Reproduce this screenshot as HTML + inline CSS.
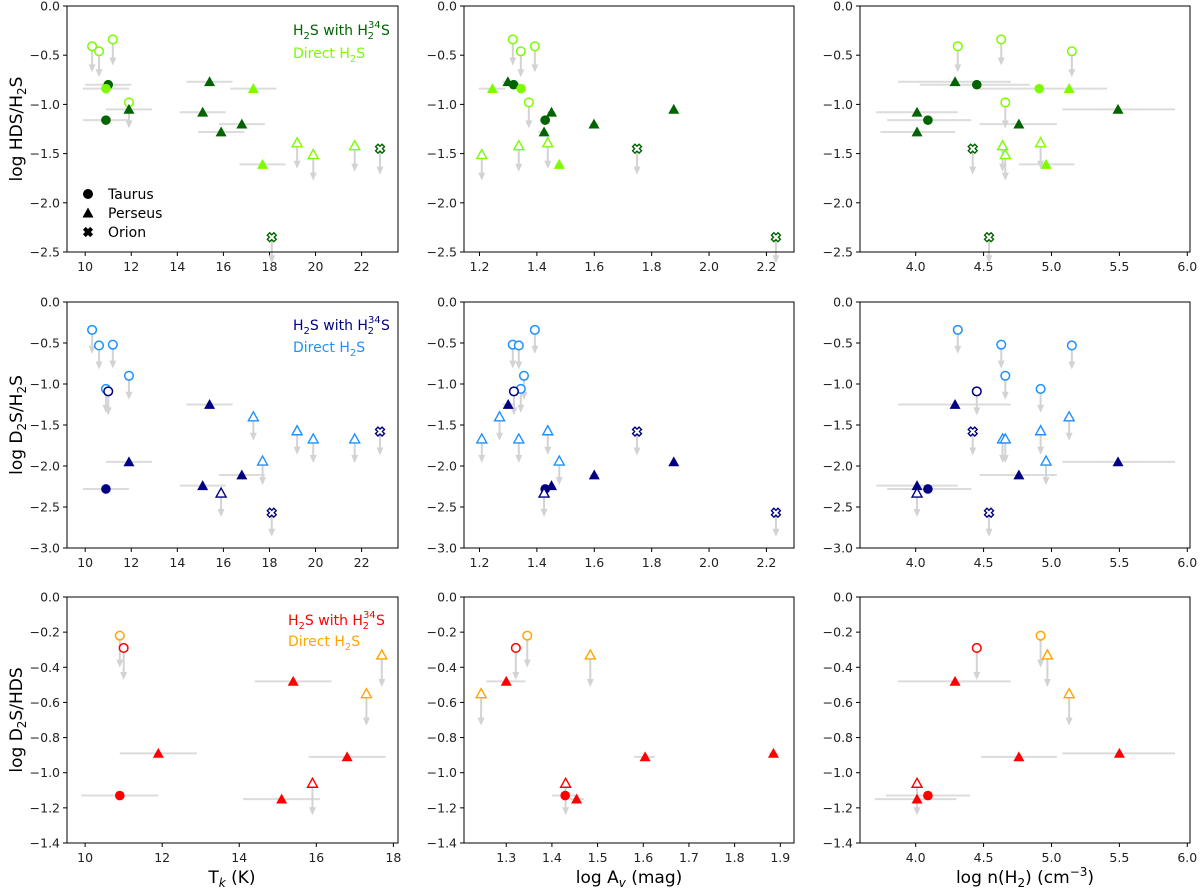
<!DOCTYPE html>
<html><head><meta charset="utf-8"><style>
html,body{margin:0;padding:0;background:#fff}
svg{display:block;font-family:"DejaVu Sans","Liberation Sans",sans-serif}
</style></head><body>
<svg id="fig" width="1200" height="893" viewBox="0 0 1200 893" xmlns="http://www.w3.org/2000/svg"></svg>
<script>
// ---- data: style = marker(c/t/x) + group(d dark / l light) + fill(f/o) + upper-limit(u/-)
// Row 1: log HDS/H2S
const r1_tk_x   = [10.3,10.6,11.2,11.0,10.9,10.9,11.9,11.9,15.4,17.3,15.1,16.8,15.9,17.7,19.2,19.9,21.7,22.8,18.1];
const r1_tk_y   = [-0.41,-0.46,-0.34,-0.80,-0.84,-1.16,-0.98,-1.05,-0.77,-0.84,-1.08,-1.20,-1.28,-1.61,-1.39,-1.51,-1.42,-1.45,-2.35];
const r1_tk_xlo = [null,null,null,10.0,9.9,9.9,null,10.9,14.4,16.3,14.1,15.8,14.9,16.7,null,null,null,null,null];
const r1_tk_xhi = [null,null,null,12.0,11.9,11.9,null,12.9,16.4,18.3,16.1,17.8,16.9,18.7,null,null,null,null,null];
const r1_tk_s   = ['clou','clou','clou','cdf-','clf-','cdf-','clou','tdf-','tdf-','tlf-','tdf-','tdf-','tdf-','tlf-','tlou','tlou','tlou','xdou','xdou'];

const r1_av_x   = [1.316,1.344,1.393,1.299,1.319,1.345,1.245,1.372,1.451,1.429,1.599,1.425,1.208,1.337,1.438,1.478,1.877,1.749,2.233];
const r1_av_y   = [-0.34,-0.46,-0.41,-0.77,-0.80,-0.84,-0.84,-0.98,-1.08,-1.16,-1.20,-1.28,-1.51,-1.42,-1.39,-1.61,-1.05,-1.45,-2.35];
const r1_av_xlo = [null,null,null,1.28,null,null,1.198,null,1.435,1.41,1.585,1.405,null,null,null,1.465,null,null,null];
const r1_av_xhi = [null,null,null,1.32,null,null,1.29,null,1.465,1.445,1.615,1.44,null,null,null,1.49,null,null,null];
const r1_av_s   = ['clou','clou','clou','tdf-','cdf-','clf-','tlf-','clou','tdf-','cdf-','tdf-','tdf-','tlou','tlou','tlou','tlf-','tdf-','xdou','xdou'];

const r1_n_x    = [4.31,4.63,5.15,4.29,4.45,4.91,5.13,4.66,5.49,4.01,4.09,4.76,4.01,4.42,4.64,4.66,4.92,4.96,4.54];
const r1_n_y    = [-0.41,-0.34,-0.46,-0.77,-0.80,-0.84,-0.84,-0.98,-1.05,-1.08,-1.16,-1.20,-1.28,-1.45,-1.42,-1.51,-1.39,-1.61,-2.35];
const r1_n_xlo  = [null,null,null,3.87,4.03,4.47,null,null,5.08,3.71,3.79,4.47,3.74,null,null,null,null,4.76,null];
const r1_n_xhi  = [null,null,null,4.70,4.84,5.41,null,null,5.91,4.31,4.41,5.04,4.29,null,null,null,null,5.17,null];
const r1_n_s    = ['clou','clou','clou','tdf-','cdf-','clf-','tlf-','clou','tdf-','tdf-','cdf-','tdf-','tdf-','xdou','tlou','tlou','tlou','tlf-','xdou'];

// Row 2: log D2S/H2S
const r2_tk_x   = [10.3,10.6,11.2,11.9,10.9,11.0,15.4,17.3,19.2,19.9,21.7,17.7,22.8,18.1,11.9,16.8,15.1,15.9,10.9];
const r2_tk_y   = [-0.34,-0.53,-0.52,-0.90,-1.06,-1.09,-1.25,-1.40,-1.57,-1.67,-1.67,-1.94,-1.58,-2.57,-1.95,-2.11,-2.24,-2.33,-2.28];
const r2_tk_xlo = [null,null,null,null,null,null,14.4,null,null,null,null,null,null,null,10.9,15.8,14.1,null,9.9];
const r2_tk_xhi = [null,null,null,null,null,null,16.4,null,null,null,null,null,null,null,12.9,17.8,16.1,null,11.9];
const r2_tk_s   = ['clou','clou','clou','clou','clou','cdou','tdf-','tlou','tlou','tlou','tlou','tlou','xdou','xdou','tdf-','tdf-','tdf-','tdou','cdf-'];

const r2_av_x   = [1.393,1.316,1.337,1.355,1.344,1.320,1.300,1.270,1.208,1.337,1.438,1.478,1.749,2.233,1.877,1.600,1.451,1.429,1.425];
const r2_av_y   = [-0.34,-0.52,-0.53,-0.90,-1.06,-1.09,-1.25,-1.40,-1.67,-1.67,-1.57,-1.94,-1.58,-2.57,-1.95,-2.11,-2.24,-2.28,-2.33];
const r2_av_xlo = [null,null,null,null,null,null,1.28,null,null,null,null,null,null,null,null,1.585,1.435,1.41,null];
const r2_av_xhi = [null,null,null,null,null,null,1.32,null,null,null,null,null,null,null,null,1.615,1.465,1.445,null];
const r2_av_s   = ['clou','clou','clou','clou','clou','cdou','tdf-','tlou','tlou','tlou','tlou','tlou','xdou','xdou','tdf-','tdf-','tdf-','cdf-','tdou'];

const r2_n_x    = [4.31,4.63,4.66,4.92,5.15,4.45,4.29,4.42,4.54,4.64,4.66,4.92,4.96,5.13,5.49,4.76,4.01,4.09,4.01];
const r2_n_y    = [-0.34,-0.52,-0.90,-1.06,-0.53,-1.09,-1.25,-1.58,-2.57,-1.67,-1.67,-1.57,-1.94,-1.40,-1.95,-2.11,-2.24,-2.28,-2.33];
const r2_n_xlo  = [null,null,null,null,null,null,3.87,null,null,null,null,null,null,null,5.08,4.47,3.71,3.79,null];
const r2_n_xhi  = [null,null,null,null,null,null,4.70,null,null,null,null,null,null,null,5.91,5.04,4.31,4.41,null];
const r2_n_s    = ['clou','clou','clou','clou','clou','cdou','tdf-','xdou','xdou','tlou','tlou','tlou','tlou','tlou','tdf-','tdf-','tdf-','cdf-','tdou'];

// Row 3: log D2S/HDS
const r3_tk_x   = [10.9,11.0,17.7,17.3,15.4,11.9,16.8,15.1,15.9,10.9];
const r3_tk_y   = [-0.22,-0.29,-0.33,-0.55,-0.48,-0.89,-0.91,-1.15,-1.06,-1.13];
const r3_tk_xlo = [null,null,null,null,14.4,10.9,15.8,14.1,null,9.9];
const r3_tk_xhi = [null,null,null,null,16.4,12.9,17.8,16.1,null,11.9];
const r3_tk_s   = ['clou','cdou','tlou','tlou','tdf-','tdf-','tdf-','tdf-','tdou','cdf-'];

const r3_av_x   = [1.346,1.321,1.245,1.484,1.300,1.604,1.885,1.430,1.429,1.454];
const r3_av_y   = [-0.22,-0.29,-0.55,-0.33,-0.48,-0.91,-0.89,-1.06,-1.13,-1.15];
const r3_av_xlo = [null,null,null,null,1.256,1.58,1.875,null,1.40,1.44];
const r3_av_xhi = [null,null,null,null,1.342,1.625,1.895,null,1.46,1.47];
const r3_av_s   = ['clou','cdou','tlou','tlou','tdf-','tdf-','tdf-','tdou','cdf-','tdf-'];

const r3_n_x    = [4.92,4.45,4.97,5.13,4.29,4.76,5.50,4.01,4.01,4.09];
const r3_n_y    = [-0.22,-0.29,-0.33,-0.55,-0.48,-0.91,-0.89,-1.06,-1.15,-1.13];
const r3_n_xlo  = [null,null,null,null,3.87,4.48,5.08,null,3.70,3.78];
const r3_n_xhi  = [null,null,null,null,4.70,5.04,5.91,null,4.30,4.40];
const r3_n_s    = ['clou','cdou','tlou','tlou','tdf-','tdf-','tdf-','tdou','tdf-','cdf-'];

// tick labels
const yticks_r1 = [0,-0.5,-1.0,-1.5,-2.0,-2.5];
const yticks_r2 = [0,-0.5,-1.0,-1.5,-2.0,-2.5,-3.0];
const yticks_r3 = [0,-0.2,-0.4,-0.6,-0.8,-1.0,-1.2,-1.4];
const xticks_tk = [10,12,14,16,18,20,22];
const xticks_tk3 = [10,12,14,16,18];
const xticks_av = [1.2,1.4,1.6,1.8,2.0,2.2];
const xticks_av3 = [1.3,1.4,1.5,1.6,1.7,1.8,1.9];
const xticks_n = [4.0,4.5,5.0,5.5,6.0];

const NS='http://www.w3.org/2000/svg';
const svg=document.getElementById('fig');
function mk(tag,attrs,parent){const e=document.createElementNS(NS,tag);for(const k in attrs)e.setAttribute(k,attrs[k]);(parent||svg).appendChild(e);return e;}
function fmt(v,d){return (v<0?'\u2212':'')+Math.abs(v).toFixed(d);}
function xPath(x,y,w,s){
  const P=[[-w,-s],[w,-s],[w,-w],[s,-w],[s,w],[w,w],[w,s],[-w,s],[-w,w],[-s,w],[-s,-w],[-w,-w]];
  const r=Math.SQRT1_2;
  return 'M'+P.map(p=>`${(x+(p[0]-p[1])*r).toFixed(2)} ${(y+(p[0]+p[1])*r).toFixed(2)}`).join(' L')+'Z';
}

const palettes={g:{d:'#006400',l:'#7cfc00'},b:{d:'#000080',l:'#1e90ff'},r:{d:'#ff0000',l:'#ffa500'}};

function panel(o){
  const g=mk('g',{});
  
  
  const [L,R]=o.fx,[T,B]=o.fy;
  const sx=v=>L+(v-o.xd[0])/(o.xd[1]-o.xd[0])*(R-L);
  const sy=v=>T+(o.yd[1]-v)/(o.yd[1]-o.yd[0])*(B-T);
  o.yt.forEach(v=>{const y=sy(v);
    mk('line',{x1:L-4,x2:L,y1:y,y2:y,stroke:'#000','stroke-width':1},g);
    const t=mk('text',{x:L-7,y:y+4.5,'text-anchor':'end','font-size':12.5,fill:'#222'},g);t.textContent=fmt(v,1);
    });
  o.xt.forEach(v=>{const x=sx(v);
    mk('line',{x1:x,x2:x,y1:B,y2:B+4,stroke:'#000','stroke-width':1},g);
    const t=mk('text',{x:x,y:B+19,'text-anchor':'middle','font-size':12.5,fill:'#222'},g);t.textContent=(o.xdec===0?String(v):v.toFixed(o.xdec));
    });
  const pal=palettes[o.pal];
  o.x.forEach((xv,i)=>{if(o.xlo[i]==null)return;const y=sy(o.y[i]);
    const l=mk('line',{x1:sx(o.xlo[i]),x2:sx(o.xhi[i]),y1:y,y2:y,stroke:'#dcdcdc','stroke-width':2},g);
    });
  o.x.forEach((xv,i)=>{if(o.s[i][3]!=='u')return;const x=sx(xv),y=sy(o.y[i]),L2=o.arr;
    const a=mk('g',{},g);
    mk('line',{x1:x,x2:x,y1:y,y2:y+L2-6,stroke:'#d3d3d3','stroke-width':2},a);
    mk('polygon',{points:`${x-3.5},${y+L2-8} ${x+3.5},${y+L2-8} ${x},${y+L2}`,fill:'#d3d3d3'},a);});
  o.x.forEach((xv,i)=>{const st=o.s[i],x=sx(xv),y=sy(o.y[i]);const col=pal[st[1]];const filled=st[2]==='f';
    let m;
    if(st[0]==='c'){m=mk('circle',{cx:x,cy:y,r:filled?4.8:4.3,fill:filled?col:'#fff',stroke:col,'stroke-width':filled?0:1.5},g);}
    else if(st[0]==='t'){const h=filled?5.5:5;m=mk('polygon',{points:`${x},${y-h} ${x+h},${y+h*0.8} ${x-h},${y+h*0.8}`,fill:filled?col:'#fff',stroke:col,'stroke-width':filled?0:1.4},g);}
    else{m=mk('path',{d:xPath(x,y,1.7,4.6),fill:'#fff',stroke:col,'stroke-width':1.4},g);}
    });
  const fr=mk('rect',{x:L,y:T,width:R-L,height:B-T,fill:'none',stroke:'#000','stroke-width':1},g);
  
}

const rowsY=[[6,252],[302,548],[597,843]];
const cols=[[67,398],[464,794],[860,1190]];
const ydoms=[[-2.5,0],[-3,0],[-1.4,0]];
const arrs=[26,24,32];
const pals=['g','b','r'];
const yts=[yticks_r1,yticks_r2,yticks_r3];
const D={
 r1:[[r1_tk_x,r1_tk_y,r1_tk_xlo,r1_tk_xhi,r1_tk_s],[r1_av_x,r1_av_y,r1_av_xlo,r1_av_xhi,r1_av_s],[r1_n_x,r1_n_y,r1_n_xlo,r1_n_xhi,r1_n_s]],
 r2:[[r2_tk_x,r2_tk_y,r2_tk_xlo,r2_tk_xhi,r2_tk_s],[r2_av_x,r2_av_y,r2_av_xlo,r2_av_xhi,r2_av_s],[r2_n_x,r2_n_y,r2_n_xlo,r2_n_xhi,r2_n_s]],
 r3:[[r3_tk_x,r3_tk_y,r3_tk_xlo,r3_tk_xhi,r3_tk_s],[r3_av_x,r3_av_y,r3_av_xlo,r3_av_xhi,r3_av_s],[r3_n_x,r3_n_y,r3_n_xlo,r3_n_xhi,r3_n_s]]};
const xdoms=[[[9.21,23.58],[1.146,2.296],[3.59,6.02]],[[9.21,23.58],[1.146,2.296],[3.59,6.02]],[[9.53,18.12],[1.2075,1.93],[3.59,6.02]]];
const xtks=[[xticks_tk,xticks_av,xticks_n],[xticks_tk,xticks_av,xticks_n],[xticks_tk3,xticks_av3,xticks_n]];
const xdecs=[[0,1,1],[0,1,1],[0,1,1]];
const colNames=['tk','av','nh2'];
for(let r=0;r<3;r++)for(let c=0;c<3;c++){
  const d=D['r'+(r+1)][c];
  panel({name:`panel-row${r+1}-${colNames[c]}`,fx:cols[c],fy:rowsY[r],xd:xdoms[r][c],yd:ydoms[r],xt:xtks[r][c],yt:yts[r],xdec:xdecs[r][c],
    x:d[0],y:d[1],xlo:d[2],xhi:d[3],s:d[4],pal:pals[r],arr:arrs[r]});
}
const orionLegend=mk('path',{d:xPath(88,232,2,5.2),fill:'#000'});


</script>
<svg width="1200" height="893" style="position:absolute;left:0;top:0;font-family:'DejaVu Sans','Liberation Sans',sans-serif">
  <text transform="translate(22,129) rotate(-90)" text-anchor="middle" font-size="17">log HDS/H<tspan font-size="12" dy="4">2</tspan><tspan dy="-4">S</tspan></text>
  <text transform="translate(22,425) rotate(-90)" text-anchor="middle" font-size="17">log D<tspan font-size="12" dy="4">2</tspan><tspan dy="-4">S/H</tspan><tspan font-size="12" dy="4">2</tspan><tspan dy="-4">S</tspan></text>
  <text transform="translate(22,720) rotate(-90)" text-anchor="middle" font-size="17">log D<tspan font-size="12" dy="4">2</tspan><tspan dy="-4">S/HDS</tspan></text>
  <text x="232" y="883" text-anchor="middle" font-size="17">T<tspan font-size="12" dy="4" font-style="italic">k</tspan><tspan dy="-4"> (K)</tspan></text>
  <text x="629" y="883" text-anchor="middle" font-size="17">log A<tspan font-size="12" dy="4" font-style="italic">v</tspan><tspan dy="-4"> (mag)</tspan></text>
  <text x="1025" y="883" text-anchor="middle" font-size="17">log n(H<tspan font-size="12" dy="4">2</tspan><tspan dy="-4">) (cm</tspan><tspan font-size="12" dy="-7">−3</tspan><tspan dy="7">)</tspan></text>

  <g font-size="14">
    <text x="293" y="35" fill="#006400">H<tspan font-size="10" dy="4">2</tspan><tspan dy="-4">S with H</tspan><tspan font-size="10" dy="-7">34</tspan><tspan font-size="10" dx="-13" dy="11">2</tspan><tspan dx="7" dy="-4">S</tspan></text>
    <text x="293" y="58" fill="#7cfc00">Direct H<tspan font-size="10" dy="4">2</tspan><tspan dy="-4">S</tspan></text>
  </g>
  <g font-size="14">
    <text x="293" y="330" fill="#000080">H<tspan font-size="10" dy="4">2</tspan><tspan dy="-4">S with H</tspan><tspan font-size="10" dy="-7">34</tspan><tspan font-size="10" dx="-13" dy="11">2</tspan><tspan dx="7" dy="-4">S</tspan></text>
    <text x="293" y="352" fill="#1e90ff">Direct H<tspan font-size="10" dy="4">2</tspan><tspan dy="-4">S</tspan></text>
  </g>
  <g font-size="14">
    <text x="288" y="625" fill="#ff0000">H<tspan font-size="10" dy="4">2</tspan><tspan dy="-4">S with H</tspan><tspan font-size="10" dy="-7">34</tspan><tspan font-size="10" dx="-13" dy="11">2</tspan><tspan dx="7" dy="-4">S</tspan></text>
    <text x="288" y="646" fill="#ffa500">Direct H<tspan font-size="10" dy="4">2</tspan><tspan dy="-4">S</tspan></text>
  </g>
  <g font-size="14">
    <circle cx="88" cy="194" r="5" fill="#000"/>
    <text x="108" y="199">Taurus</text>
    <polygon points="88,207.5 93.5,217.5 82.5,217.5" fill="#000"/>
    <text x="108" y="218">Perseus</text>
    <text x="108" y="237">Orion</text>
  </g>
</svg>
</body></html>
